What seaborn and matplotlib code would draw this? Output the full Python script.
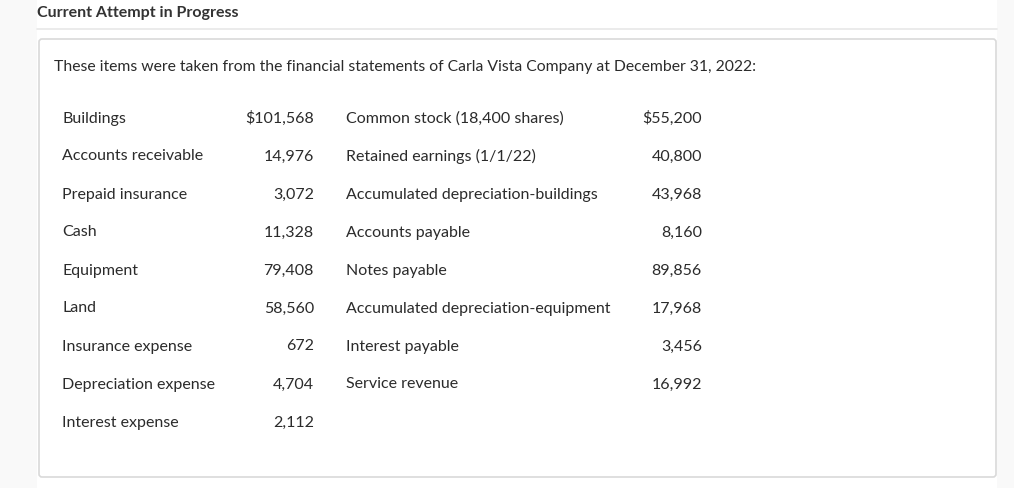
import matplotlib
matplotlib.use("Agg")
import matplotlib.pyplot as plt
from matplotlib.patches import FancyBboxPatch, Rectangle
import seaborn as sns

# data
left_labels = ["Buildings", "Accounts receivable", "Prepaid insurance", "Cash", "Equipment",
               "Land", "Insurance expense", "Depreciation expense", "Interest expense"]
left_values = ["$101,568", "14,976", "3,072", "11,328", "79,408", "58,560", "672", "4,704", "2,112"]
right_labels = ["Common stock (18,400 shares)", "Retained earnings (1/1/22)",
                "Accumulated depreciation-buildings", "Accounts payable", "Notes payable",
                "Accumulated depreciation-equipment", "Interest payable", "Service revenue"]
right_values = ["$55,200", "40,800", "43,968", "8,160", "89,856", "17,968", "3,456", "16,992"]
header = "Current Attempt in Progress"
intro = ("These items were taken from the financial statements of Carla Vista Company "
         "at December 31, 2022:")

sns.set_theme(style="white")
plt.rcParams['font.family'] = ['Lato', 'DejaVu Sans']

fig = plt.figure(figsize=(10.14, 4.88), dpi=100)
fig.patch.set_facecolor("#f9f9f9")
ax = fig.add_axes([0, 0, 1, 1])
ax.set_xlim(0, 1014)
ax.set_ylim(488, 0)
ax.axis("off")

# white page area
ax.add_patch(Rectangle((37, 0), 960, 488, facecolor="white", edgecolor="none", zorder=0))
ax.plot([37, 997], [29, 29], color="#e8e8e8", lw=1.2, zorder=1)
ax.add_patch(FancyBboxPatch((39, 39), 957, 438, boxstyle="round,pad=0,rounding_size=3",
                            facecolor="white", edgecolor="#d9d9d9", lw=1.2, zorder=1))

txt = "#2b2b2b"
ax.text(37, 16.5, header, fontsize=11.5, fontweight="bold", color="#333333", va="baseline", ha="left")
ax.text(54, 71.5, intro, fontsize=11.3, color=txt, va="baseline", ha="left")

row_h = 38
y0 = 122.5  # baseline of first row
fs = 11.5
for i, (lab, val) in enumerate(zip(left_labels, left_values)):
    y = y0 + i * row_h
    ax.text(62, y, lab, fontsize=fs, color=txt, va="baseline", ha="left")
    ax.text(314, y, val, fontsize=fs, color=txt, va="baseline", ha="right")
for i, (lab, val) in enumerate(zip(right_labels, right_values)):
    y = y0 + i * row_h
    ax.text(346, y, lab, fontsize=fs, color=txt, va="baseline", ha="left")
    ax.text(702, y, val, fontsize=fs, color=txt, va="baseline", ha="right")

fig.savefig("out.png", dpi=100, facecolor=fig.get_facecolor())
